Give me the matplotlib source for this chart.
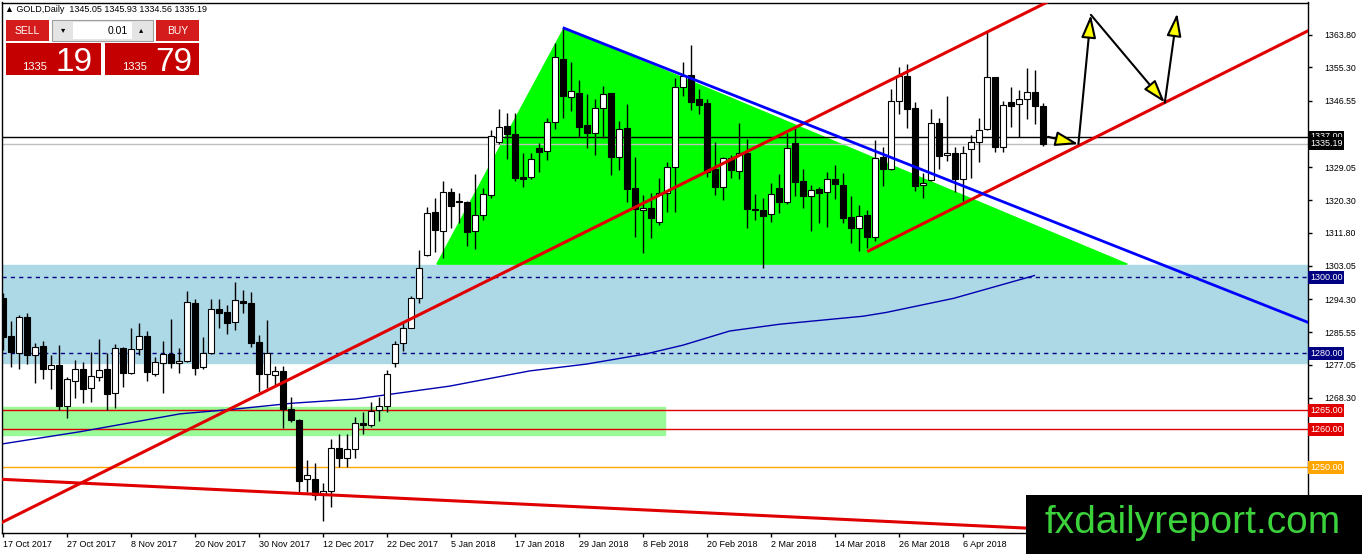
import matplotlib
matplotlib.use("Agg")
import matplotlib.pyplot as plt
from matplotlib.patches import Rectangle, Polygon
from matplotlib.transforms import blended_transform_factory

plt.rcParams['font.family'] = ['Liberation Sans', 'DejaVu Sans']

# Daily OHLC for GOLD, bar 0 = 17 Oct 2017, last bar = 20 Apr 2018
opens = [1294.6, 1284.6, 1280.2, 1289.6, 1279.5, 1282.0, 1276.0, 1277.0, 1266.2, 1272.7,
         1275.9, 1270.8, 1273.9, 1275.9, 1269.7, 1281.4, 1274.8, 1281.1, 1284.5, 1274.5,
         1277.6, 1279.8, 1277.4, 1278.1, 1293.2, 1276.4, 1280.0, 1291.7, 1290.8, 1288.2,
         1293.8, 1293.2, 1282.9, 1274.5, 1274.3, 1275.5, 1265.3, 1262.6, 1246.9, 1247.0,
         1242.8, 1243.9, 1255.0, 1252.4, 1254.8, 1261.8, 1261.1, 1265.1, 1266.2, 1277.6,
         1282.7, 1286.8, 1294.5, 1305.8, 1317.1, 1312.3, 1322.5, 1320.1, 1319.8, 1312.1,
         1316.4, 1321.7, 1335.7, 1339.9, 1337.7, 1326.5, 1326.3, 1334.0, 1333.3, 1340.8,
         1357.5, 1347.4, 1348.5, 1340.1, 1337.9, 1344.5, 1348.5, 1331.6, 1339.2, 1323.5,
         1317.7, 1318.4, 1314.5, 1322.1, 1329.0, 1350.0, 1353.3, 1347.0, 1345.8, 1328.5,
         1323.7, 1331.3, 1328.0, 1332.7, 1317.9, 1317.7, 1316.6, 1323.5, 1319.8, 1335.3,
         1325.3, 1321.5, 1323.4, 1322.4, 1325.8, 1324.3, 1315.8, 1312.9, 1316.4, 1310.6,
         1331.6, 1328.5, 1346.4, 1353.0, 1344.5, 1324.2, 1325.6, 1340.6, 1332.2, 1332.7,
         1325.9, 1333.8, 1335.7, 1339.0, 1352.7, 1334.2, 1346.1, 1345.6, 1346.9, 1348.7,
         1345.05]
highs = [1295.9, 1288.6, 1290.1, 1290.7, 1282.7, 1283.3, 1279.7, 1282.2, 1273.7, 1278.3,
         1277.7, 1280.4, 1283.8, 1280.1, 1282.4, 1281.6, 1286.6, 1288.1, 1285.9, 1279.1,
         1283.3, 1289.0, 1281.4, 1296.4, 1294.3, 1284.2, 1294.3, 1294.3, 1292.7, 1298.7,
         1296.8, 1296.1, 1284.9, 1288.8, 1276.8, 1276.7, 1268.6, 1262.7, 1251.9, 1251.1,
         1245.8, 1257.4, 1258.7, 1258.7, 1263.4, 1264.7, 1267.3, 1268.6, 1275.6, 1283.4,
         1288.3, 1295.2, 1307.2, 1318.6, 1320.8, 1325.5, 1323.5, 1322.1, 1320.1, 1327.2,
         1323.5, 1338.8, 1344.2, 1343.4, 1343.4, 1332.8, 1332.7, 1335.3, 1341.9, 1361.6,
         1365.6, 1356.8, 1352.0, 1348.3, 1347.0, 1350.4, 1348.6, 1341.2, 1345.6, 1331.8,
         1321.7, 1322.1, 1326.2, 1330.4, 1352.6, 1356.6, 1361.2, 1349.5, 1347.0, 1335.7,
         1331.6, 1332.2, 1340.6, 1336.4, 1322.0, 1320.8, 1324.9, 1327.2, 1338.1, 1339.8,
         1328.5, 1324.3, 1323.9, 1327.8, 1329.6, 1327.6, 1321.3, 1319.1, 1317.7, 1336.2,
         1334.4, 1349.5, 1355.3, 1356.1, 1346.2, 1327.6, 1344.2, 1341.9, 1347.8, 1334.4,
         1334.7, 1337.5, 1341.9, 1364.5, 1352.8, 1346.5, 1350.0, 1349.3, 1355.2, 1354.6,
         1345.93]
lows = [1280.9, 1276.5, 1276.0, 1277.1, 1272.1, 1273.2, 1270.6, 1265.1, 1263.1, 1268.4,
        1267.0, 1267.3, 1272.7, 1265.1, 1265.6, 1271.2, 1274.6, 1279.6, 1272.8, 1274.1,
        1269.5, 1276.2, 1274.8, 1277.8, 1274.3, 1275.8, 1279.8, 1286.6, 1285.2, 1286.2,
        1290.7, 1281.8, 1269.8, 1271.0, 1271.7, 1260.5, 1262.0, 1243.2, 1243.6, 1241.4,
        1235.9, 1239.7, 1250.2, 1250.2, 1252.4, 1258.7, 1260.7, 1262.3, 1264.7, 1276.5,
        1280.7, 1286.6, 1293.4, 1305.6, 1306.8, 1305.2, 1313.0, 1314.2, 1308.3, 1307.5,
        1315.1, 1321.0, 1335.0, 1331.2, 1325.4, 1323.7, 1325.9, 1327.8, 1330.9, 1339.1,
        1341.9, 1343.8, 1337.0, 1334.0, 1332.2, 1336.6, 1327.0, 1328.3, 1319.8, 1310.7,
        1306.4, 1310.3, 1313.8, 1317.3, 1317.3, 1347.8, 1344.1, 1343.0, 1326.5, 1321.7,
        1320.4, 1326.1, 1325.8, 1312.9, 1315.0, 1302.4, 1314.7, 1316.9, 1319.3, 1321.4,
        1318.4, 1312.3, 1314.4, 1313.2, 1320.6, 1314.4, 1309.0, 1307.0, 1307.7, 1309.5,
        1324.1, 1328.3, 1342.9, 1339.2, 1322.8, 1320.8, 1325.4, 1328.5, 1330.6, 1322.4,
        1320.1, 1326.2, 1330.4, 1338.7, 1333.1, 1333.1, 1339.7, 1336.9, 1341.6, 1340.3,
        1334.56]
closes = [1284.3, 1280.5, 1289.5, 1279.7, 1281.8, 1276.0, 1276.9, 1266.2, 1273.3, 1275.9,
          1270.7, 1274.0, 1275.6, 1269.2, 1281.4, 1274.8, 1281.1, 1284.5, 1275.0, 1277.7,
          1279.8, 1277.6, 1278.0, 1293.5, 1276.2, 1280.0, 1291.7, 1290.6, 1287.9, 1294.1,
          1293.3, 1282.8, 1274.5, 1280.0, 1275.5, 1265.3, 1262.5, 1246.5, 1248.0, 1242.8,
          1243.9, 1255.0, 1252.4, 1254.8, 1261.6, 1261.1, 1264.9, 1266.2, 1274.6, 1282.5,
          1286.6, 1294.5, 1302.4, 1316.9, 1312.5, 1322.5, 1318.8, 1319.8, 1312.0, 1316.4,
          1321.9, 1337.2, 1339.5, 1337.7, 1326.1, 1326.0, 1331.1, 1333.1, 1340.8, 1357.9,
          1347.7, 1349.1, 1339.7, 1337.9, 1344.5, 1348.2, 1331.8, 1339.0, 1323.3, 1318.0,
          1318.2, 1315.6, 1322.1, 1329.0, 1350.0, 1353.1, 1346.2, 1345.4, 1327.8, 1323.9,
          1331.3, 1328.3, 1332.7, 1317.9, 1317.7, 1316.2, 1321.9, 1319.8, 1334.0, 1325.0,
          1321.5, 1323.0, 1322.3, 1325.8, 1324.5, 1315.6, 1313.1, 1316.2, 1310.6, 1331.5,
          1328.5, 1346.5, 1353.0, 1344.2, 1324.1, 1324.8, 1340.6, 1332.0, 1332.7, 1325.9,
          1332.7, 1335.6, 1338.9, 1352.7, 1334.2, 1345.4, 1345.2, 1346.9, 1348.7, 1345.1,
          1335.19]

# moving average (read at a few bars)
ma_idx = [-0.4, 9.6, 22.1, 28.7, 36.1, 44.0, 55.8, 65.8, 72.9, 80.4, 85.0, 90.8, 97.1,
          107.5, 110.4, 118.8, 128.9]
ma_val = [1256.1, 1259.4, 1264.1, 1265.3, 1266.9, 1268.0, 1271.4, 1275.4, 1277.2, 1279.9,
          1282.2, 1285.9, 1287.7, 1289.8, 1290.8, 1294.5, 1300.5]

date_idx = list(range(0, 121, 8))
date_labels = ['17 Oct 2017', '27 Oct 2017', '8 Nov 2017', '20 Nov 2017', '30 Nov 2017',
               '12 Dec 2017', '22 Dec 2017', '5 Jan 2018', '17 Jan 2018', '29 Jan 2018',
               '8 Feb 2018', '20 Feb 2018', '2 Mar 2018', '14 Mar 2018', '26 Mar 2018',
               '6 Apr 2018']

price_ticks = [1363.80, 1355.30, 1346.55, 1329.05, 1320.30, 1311.80, 1303.05, 1294.30,
               1285.55, 1277.05, 1268.30, 1242.05]

# drawn objects
zone_blue = (1277.6, 1303.3)
zone_green = (1258.6, 1265.8, 82.7)          # low, high, right end (bar)
triangle = [(54.2, 1303.5), (70.1, 1365.6), (140.5, 1303.5)]
blue_trend = [(70.1, 1365.6), (163.2, 1288.1)]
red_long = [(-0.4, 1235.3), (140.0, 1382.4)]
red_channel = [(108.0, 1306.8), (163.2, 1365.0)]
red_bottom = [(-0.4, 1246.9), (163.2, 1230.5)]
arrow_path = [(130.6, 1337.0), (134.4, 1335.1), (135.96, 1369.1), (145.2, 1346.0),
              (146.75, 1369.5)]
levels = [(1337.00, 'black', '-'), (1335.19, '#c0c0c0', '-'), (1300.00, '#000080', '--'),
          (1280.00, '#000080', '--'), (1265.00, '#e00000', '-'), (1260.00, '#e00000', '-'),
          (1250.00, '#ffa500', '-')]
level_tags = [(1337.00, 'black'), (1335.19, 'black'), (1300.00, '#000080'),
              (1280.00, '#000080'), (1265.00, '#e00000'), (1260.00, '#e00000'),
              (1250.00, '#ffa500')]

W, H = 1362, 554
fig = plt.figure(figsize=(W / 100, H / 100), dpi=100)
ax = fig.add_axes([2 / W, 21 / H, 1306 / W, 530.5 / H])
ax.set_xlim(-0.16, 163.1)
ax.set_ylim(1232.75, 1372.35)

# zones
ax.axhspan(zone_blue[0], zone_blue[1], color='#add8e6', zorder=0)
ax.add_patch(Rectangle((-1, zone_green[0]), zone_green[2] + 1, zone_green[1] - zone_green[0],
                       color='#98fb98', zorder=0.5))
ax.add_patch(Polygon(triangle, closed=True, color='#00ff00', zorder=0.6))

# horizontal levels
for lv, col, ls in levels:
    ax.axhline(lv, color=col, lw=1, ls=ls, dashes=(3, 3) if ls == '--' else (None, None),
               zorder=1)

# moving average
ax.plot(ma_idx, ma_val, color='#0000b0', lw=1, zorder=1.2)

# candles
x = list(range(len(opens)))
ax.vlines(x, lows, highs, color='black', lw=1, zorder=2)
bottoms = [min(o, c) for o, c in zip(opens, closes)]
heights = [max(abs(c - o), 0.3) for o, c in zip(opens, closes)]
faces = ['white' if c >= o else 'black' for o, c in zip(opens, closes)]
ax.bar(x, heights, bottom=bottoms, width=0.7, color=faces, edgecolor='black', lw=0.8,
       zorder=3)

# trend lines
for (x0, y0), (x1, y1) in [red_long, red_channel, red_bottom]:
    ax.plot([x0, x1], [y0, y1], color='#e00000', lw=2.2, zorder=4, solid_capstyle='butt')
ax.plot(*zip(*blue_trend), color='#0000ff', lw=2, zorder=4)

# yellow arrows
for p0, p1 in zip(arrow_path[:-1], arrow_path[1:]):
    ax.annotate('', xy=p1, xytext=p0,
                arrowprops=dict(arrowstyle='-|>,head_length=1.4,head_width=0.45',
                                fc='#ffff00', ec='black', lw=1.5, shrinkA=0, shrinkB=0,
                                mutation_scale=10),
                zorder=5)

# axes
for s in ax.spines.values():
    s.set_linewidth(1)
ax.yaxis.tick_right()
ax.set_yticks(price_ticks)
ax.set_yticklabels([f'{p:.2f}' for p in price_ticks])
ax.set_xticks(date_idx)
ax.set_xticklabels(date_labels, ha='left')
ax.tick_params(axis='both', labelsize=6.5, length=3, width=1, direction='out')
ax.tick_params(axis='x', pad=2)
ax.tick_params(axis='y', pad=9, labelsize=6.3)

trans = blended_transform_factory(ax.transAxes, ax.transData)
for lv, col in level_tags:
    ax.text(1.0015, lv, f'{lv:.2f}', transform=trans, ha='left', va='center', fontsize=6.5,
            color='white', clip_on=False, zorder=10,
            bbox=dict(boxstyle='square,pad=0.2', fc=col, ec='none'))


# ---- overlays in pixel coordinates ----
def px_rect(x0, y0, x1, y1, **kw):
    r = Rectangle((x0 / W, 1 - y1 / H), (x1 - x0) / W, (y1 - y0) / H,
                  transform=fig.transFigure, **kw)
    fig.add_artist(r)


def px_text(xp, yp, s, **kw):
    fig.text(xp / W, 1 - yp / H, s, **kw)


px_text(5, 10, '\u25b2 GOLD,Daily  1345.05 1345.93 1334.56 1335.19', fontsize=6.5,
        va='center', ha='left', zorder=20)

px_rect(6, 20, 49, 41, fc='#d41c1c', ec='none', zorder=20)
px_text(27.5, 31, 'SELL', fontsize=7.5, color='white', ha='center', va='center', zorder=21)
px_rect(52, 20, 153, 41, fc='#e4e4e4', ec='#a0a0a0', lw=0.8, zorder=20)
px_rect(73, 22, 132, 39, fc='white', ec='none', zorder=21)
px_text(63, 31, '\u25be', fontsize=6, ha='center', va='center', zorder=22)
px_text(141, 31, '\u25b4', fontsize=6, ha='center', va='center', zorder=22)
px_text(128, 31, '0.01', fontsize=7.5, ha='right', va='center', zorder=22)
px_rect(156, 20, 199, 41, fc='#d41c1c', ec='none', zorder=20)
px_text(177.5, 31, 'BUY', fontsize=7.5, color='white', ha='center', va='center', zorder=21)
px_rect(6, 43, 101, 75, fc='#c40000', ec='none', zorder=20)
px_rect(105, 43, 199, 75, fc='#c40000', ec='none', zorder=20)
px_text(22, 70, '1335', fontsize=8, color='white', ha='left', va='baseline', zorder=21)
px_text(56, 71, '19', fontsize=24, color='white', ha='left', va='baseline', zorder=21)
px_text(122, 70, '1335', fontsize=8, color='white', ha='left', va='baseline', zorder=21)
px_text(155, 71, '79', fontsize=24, color='white', ha='left', va='baseline', zorder=21)

px_rect(1026, 495, 1362, 554, fc='black', ec='none', zorder=20)
px_text(1193, 533, 'fxdailyreport.com', fontsize=28, color='#3cd23c', ha='center',
        va='baseline', zorder=21)

fig.savefig('out.png', dpi=100)
